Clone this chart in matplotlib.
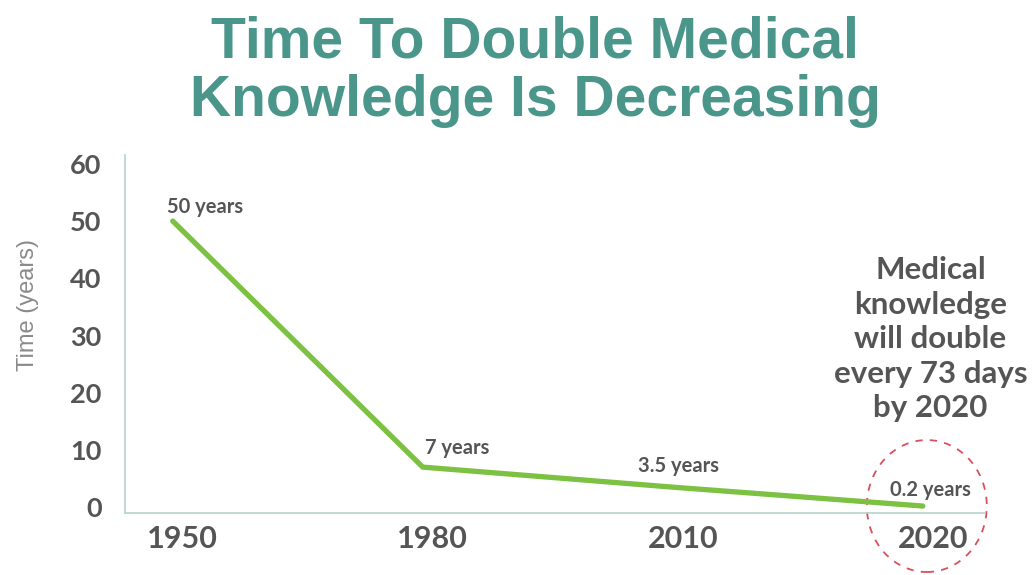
import numpy as np
import matplotlib.pyplot as plt
from matplotlib.patches import Ellipse
from matplotlib.transforms import ScaledTranslation

years = ['1950', '1980', '2010', '2020']
doubling_time = [50, 7, 3.5, 0.2]
point_labels = ['50 years', '7 years', '3.5 years', '0.2 years']
yticks = [0, 10, 20, 30, 40, 50, 60]

green = '#7cc142'
teal = '#4b968b'
grey = '#555555'

fig = plt.figure(figsize=(10.35, 5.75), dpi=100)
ax = fig.add_axes([0.121, 0.108, 0.831, 0.622])

x = np.arange(len(years))
ax.plot(x, doubling_time, color=green, lw=3.8, solid_capstyle='round', solid_joinstyle='miter')

offsets = [(32, 14), (34, 19), (6, 21), (8, 16)]
for xi, yi, lab, off in zip(x, doubling_time, point_labels, offsets):
    ax.annotate(lab, (xi, yi), xytext=off, textcoords='offset pixels',
                ha='center', va='center', fontsize=14.5, color=grey,
                family='Lato', weight='bold')

ax.set_xlim(-0.19, 3.25)
ax.set_ylim(-1, 61.5)
ax.set_xticks(x + 0.04)
ax.set_xticklabels(years)
ax.set_yticks(yticks)
ax.tick_params(length=0, colors=grey)
ax.tick_params(axis='x', pad=9, labelsize=22)
ax.tick_params(axis='y', pad=17, labelsize=19.5)
for t in ax.get_xticklabels() + ax.get_yticklabels():
    t.set_family('Lato')
    t.set_weight('bold')

for s in ['top', 'right']:
    ax.spines[s].set_visible(False)
for s in ['left', 'bottom']:
    ax.spines[s].set_color('#b5d3cd')
    ax.spines[s].set_linewidth(1.2)

# dashed circle around the 2020 point
circ = Ellipse((0.04, 0.0), 1.2, 1.32, fill=False, ec='#d8505c', lw=1.3,
               ls=(0, (4, 4)), clip_on=False,
               transform=fig.dpi_scale_trans + ScaledTranslation(x[-1], doubling_time[-1], ax.transData))
ax.add_patch(circ)

fig.text(0.517, 0.875, 'Time To Double Medical\nKnowledge Is Decreasing',
         ha='center', va='center', fontsize=41, weight='bold', color=teal,
         family='Liberation Sans', linespacing=1.12)
fig.text(0.027, 0.47, 'Time (years)', rotation=90, ha='center', va='center',
         fontsize=17, color='#8a8a8a', family='Liberation Sans')
fig.text(0.899, 0.41, 'Medical\nknowledge\nwill double\nevery 73 days\nby 2020',
         ha='center', va='center', multialignment='center', fontsize=22.5,
         color=grey, family='Lato', weight='bold', linespacing=1.28)

fig.savefig('out.png', dpi=100)
